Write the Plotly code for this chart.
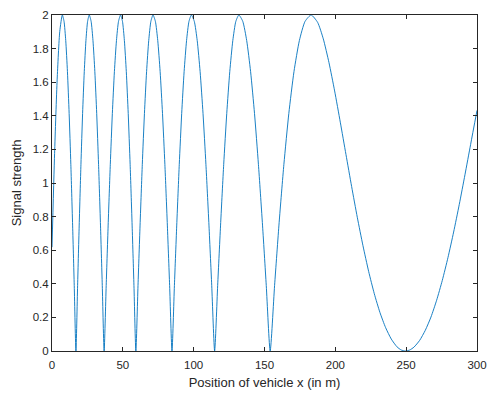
import plotly.graph_objects as go

# Position of vehicle (m)
x_pos = [
    0, 1.83, 3.65, 5.48, 7.3,
    8.5, 9.7, 10.9, 12.1, 13.3, 14.5, 15.7, 16.9,
    18.08, 19.25, 20.43, 21.6, 22.78, 23.95, 25.13, 26.3,
    27.61, 28.93, 30.24, 31.55, 32.86, 34.18, 35.49, 36.8,
    38.25, 39.7, 41.15, 42.6, 44.05, 45.5, 46.95, 48.4,
    49.75, 51.1, 52.45, 53.8, 55.15, 56.5, 57.85, 59.2,
    60.71, 62.23, 63.74, 65.25, 66.76, 68.28, 69.79, 71.3,
    72.98, 74.65, 76.33, 78.0, 79.68, 81.35, 83.03, 84.7,
    86.41, 88.13, 89.84, 91.55, 93.26, 94.98, 96.69, 98.4,
    100.45, 102.5, 104.55, 106.6, 108.65, 110.7, 112.75, 114.8,
    116.94, 119.08, 121.21, 123.35, 125.49, 127.63, 129.76, 131.9,
    134.66, 137.43, 140.19, 142.95, 145.71, 148.48, 151.24, 154.0,
    157.12, 160.34, 163.69, 167.17, 170.8, 174.62, 178.63, 182.9,
    187.5, 191.5, 195.5, 199.5, 203.5, 207.5, 211.5, 215.5, 219.5,
    223.5, 227.5, 231.5, 235.5, 239.5, 243.5, 246.5, 249.5,
    252.5, 255.5, 259.5, 263.5, 267.5, 271.5, 275.5, 279.5, 283.5,
    287.5, 291.5, 295.5, 300,
]

# Signal strength
signal = [
    0.618, 1.176, 1.618, 1.902, 2.0,
    1.962, 1.848, 1.663, 1.414, 1.111, 0.765, 0.39, 0.0,
    0.39, 0.765, 1.111, 1.414, 1.663, 1.848, 1.962, 2.0,
    1.962, 1.848, 1.663, 1.414, 1.111, 0.765, 0.39, 0.0,
    0.39, 0.765, 1.111, 1.414, 1.663, 1.848, 1.962, 2.0,
    1.962, 1.848, 1.663, 1.414, 1.111, 0.765, 0.39, 0.0,
    0.39, 0.765, 1.111, 1.414, 1.663, 1.848, 1.962, 2.0,
    1.962, 1.848, 1.663, 1.414, 1.111, 0.765, 0.39, 0.0,
    0.39, 0.765, 1.111, 1.414, 1.663, 1.848, 1.962, 2.0,
    1.962, 1.848, 1.663, 1.414, 1.111, 0.765, 0.39, 0.0,
    0.39, 0.765, 1.111, 1.414, 1.663, 1.848, 1.962, 2.0,
    1.962, 1.848, 1.663, 1.414, 1.111, 0.765, 0.39, 0.0,
    0.39, 0.765, 1.111, 1.414, 1.663, 1.848, 1.962, 2.0,
    1.956, 1.858, 1.717, 1.548, 1.362, 1.170, 0.979, 0.796, 0.627,
    0.474, 0.341, 0.229, 0.139, 0.071, 0.025, 0.006, 0.0,
    0.006, 0.023, 0.063, 0.123, 0.202, 0.302, 0.420, 0.556, 0.708,
    0.873, 1.049, 1.230, 1.432,
]

x_ticks = [0, 50, 100, 150, 200, 250, 300]
y_ticks = [0, 0.2, 0.4, 0.6, 0.8, 1, 1.2, 1.4, 1.6, 1.8, 2]
y_tick_labels = ["0", "0.2", "0.4", "0.6", "0.8", "1", "1.2", "1.4", "1.6", "1.8", "2"]

fig = go.Figure()
fig.add_trace(go.Scatter(
    x=x_pos, y=signal, mode="lines", line_shape="spline",
    line=dict(color="#0072BD", width=0.9, smoothing=0.6),
    showlegend=False, hoverinfo="skip",
))

axis_color = "#262626"
font_family = "Liberation Sans, Arial, Helvetica"
common = dict(
    showgrid=False, zeroline=False, showline=True, linecolor=axis_color,
    linewidth=1, mirror="ticks", ticks="inside", ticklen=4, tickwidth=1,
    tickcolor=axis_color, ticklabeloverflow="allow",
    tickfont=dict(family=font_family, size=11.5, color=axis_color),
)

fig.update_layout(
    width=487, height=393,
    margin=dict(l=52, r=10, t=15, b=42),
    paper_bgcolor="white", plot_bgcolor="white",
    font=dict(family=font_family, color=axis_color),
    xaxis=dict(
        range=[0, 300], tickvals=x_ticks, ticktext=[str(v) for v in x_ticks],
        title=dict(text="Position of vehicle x (in m)", font=dict(size=13), standoff=8),
        ticklabelstandoff=3,
        automargin=False, **common,
    ),
    yaxis=dict(
        range=[0, 2], tickvals=y_ticks, ticktext=y_tick_labels,
        title=dict(text="Signal strength", font=dict(size=13), standoff=8),
        automargin=False, **common,
    ),
)

fig.write_html(
    "out.html",
    config={"displayModeBar": False},
    post_script="document.body.style.margin='0';document.body.style.overflow='hidden';",
)
